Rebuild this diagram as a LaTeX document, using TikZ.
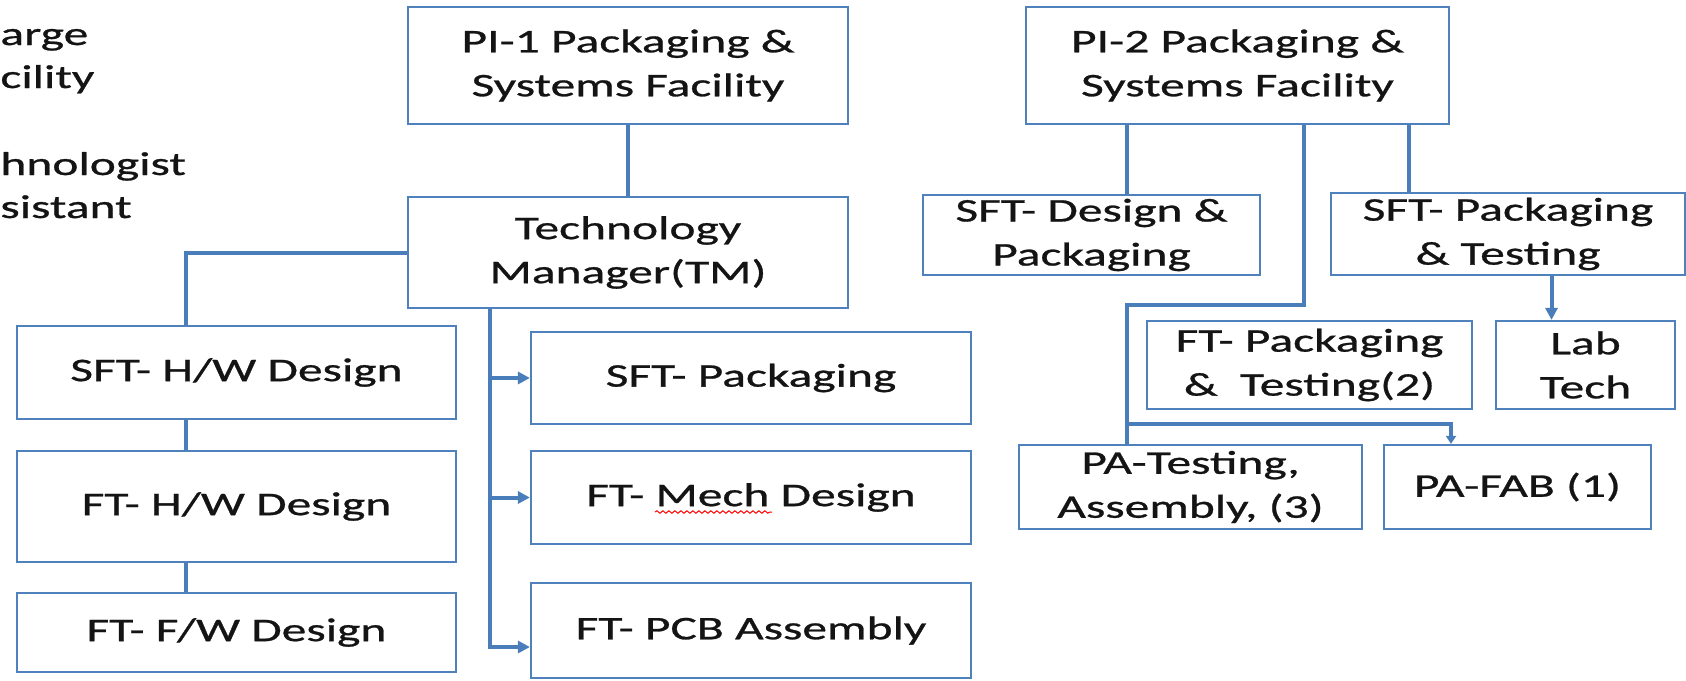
\documentclass[tikz,border=0pt]{standalone}
\usepackage{fontspec}
\setmainfont{Carlito}[FakeStretch=1.5,FakeBold=0.8]
\usetikzlibrary{arrows.meta,decorations.pathmorphing}
\definecolor{boxblue}{HTML}{4F81BD}
\definecolor{linkblue}{HTML}{4A7EBB}
\definecolor{txt}{HTML}{141414}
\begin{document}
\begin{tikzpicture}[x=0.5pt,y=-0.5pt,
  box/.style={draw=boxblue, line width=1.1pt, fill=white, align=center, inner sep=0pt, text=txt, font=\fontsize{16.5pt}{22pt}\selectfont},
  conn/.style={draw=linkblue, line width=2pt},
  arr/.style={conn, -{Triangle[length=6pt,width=6pt]}},
  smallarr/.style={conn, -{Triangle[length=4pt,width=5pt]}},
  lefttxt/.style={inner sep=0pt, text=txt, font=\fontsize{16.5pt}{22pt}\selectfont},
  spell/.style={draw=red, line width=0.5pt, decorate, decoration={snake, amplitude=0.6pt, segment length=3pt}}]
\useasboundingbox (0,0) rectangle (1686,680);

% cut-off text on the left
\node[lefttxt, anchor=base west] (l1) at (0,45) {arge};
\node[lefttxt, anchor=base west] (l2) at (0,88) {cility};
\node[lefttxt, anchor=base west] (l3) at (0,175) {hnologist};
\node[lefttxt, anchor=base west] (l4) at (0,218) {sistant};

% left tree
\node[box, minimum width=220pt, minimum height=58.5pt] (PI1) at (628,65.5) {PI-1 Packaging \&\\Systems Facility};
\node[box, minimum width=220pt, minimum height=55.5pt] (TM) at (628,252.5) {Technology\\Manager(TM)};
\node[box, minimum width=219.5pt, minimum height=46.5pt] (SFTHW) at (236.5,372.5) {SFT- H/W Design};
\node[box, minimum width=219.5pt, minimum height=55.5pt] (FTHW) at (236.5,506.5) {FT- H/W Design};
\node[box, minimum width=219.5pt, minimum height=39.5pt] (FTFW) at (236.5,632.5) {FT- F/W Design};
\node[box, minimum width=220pt, minimum height=46pt] (SFTP) at (751,378) {SFT- Packaging};
\node[box, minimum width=220pt, minimum height=46.5pt] (FTMech) at (751,497.5) {FT- Mech Design};
\node[box, minimum width=220pt, minimum height=47.5pt] (FTPCB) at (751,630.5) {FT- PCB Assembly};

% right tree
\node[box, minimum width=211.5pt, minimum height=58.5pt] (PI2) at (1237.5,65.5) {PI-2 Packaging \&\\Systems Facility};
\node[box, minimum width=168.5pt, minimum height=40pt] (SFTDes) at (1091.5,235) {SFT- Design \&\\Packaging};
\node[box, minimum width=177pt, minimum height=41pt] (SFTPT) at (1508,234) {SFT- Packaging\\\& Testing};
\node[box, minimum width=162.5pt, minimum height=44pt] (FTPT) at (1309.5,365) {FT- Packaging\\\&\ \ Testing(2)};
\node[box, minimum width=89.5pt, minimum height=44pt] (Lab) at (1585.5,365) {Lab\\Tech};
\node[box, minimum width=171.5pt, minimum height=42pt] (PATest) at (1190.5,487) {PA-Testing,\\Assembly, (3)};
\node[box, minimum width=133.5pt, minimum height=42pt] (PAFAB) at (1517.5,487) {PA-FAB (1)};

% spell-check underline
\draw[spell] (655,512) -- (772,512);

% left connectors
\coordinate (hwx) at (186,0);
\coordinate (trx) at (490,0);
\coordinate (pcby) at (0,647);
\draw[conn] (PI1.south) -- (TM.north);
\draw[conn] (TM.west) -| (SFTHW.north -| hwx);
\draw[conn] (SFTHW.south -| hwx) -- (FTHW.north -| hwx);
\draw[conn] (FTHW.south -| hwx) -- (FTFW.north -| hwx);
\draw[arr] (TM.south -| trx) |- (FTPCB.west |- pcby);
\draw[arr] (SFTP.west -| trx) -- (SFTP.west);
\draw[arr] (FTMech.west -| trx) -- (FTMech.west);

% right connectors
\coordinate (c1) at (1126.5,0);
\coordinate (c3) at (1409,0);
\coordinate (c2) at (1304,305);
\coordinate (c2b) at (1127,305);
\coordinate (fab) at (1127,424);
\coordinate (fabx) at (1451,424);
\coordinate (lt) at (1551.5,0);
\draw[conn] (PI2.south -| c1) -- (SFTDes.north -| c1);
\draw[conn] (PI2.south -| c3) -- (SFTPT.north -| c3);
\draw[conn] (PI2.south -| c2) -- (c2) -- (c2b) -- (PATest.north -| c2b);
\draw[smallarr] (fab) -- (fabx) -- (PAFAB.north -| fabx);
\draw[arr] (SFTPT.south -| lt) -- (Lab.north -| lt);
\end{tikzpicture}
\end{document}
